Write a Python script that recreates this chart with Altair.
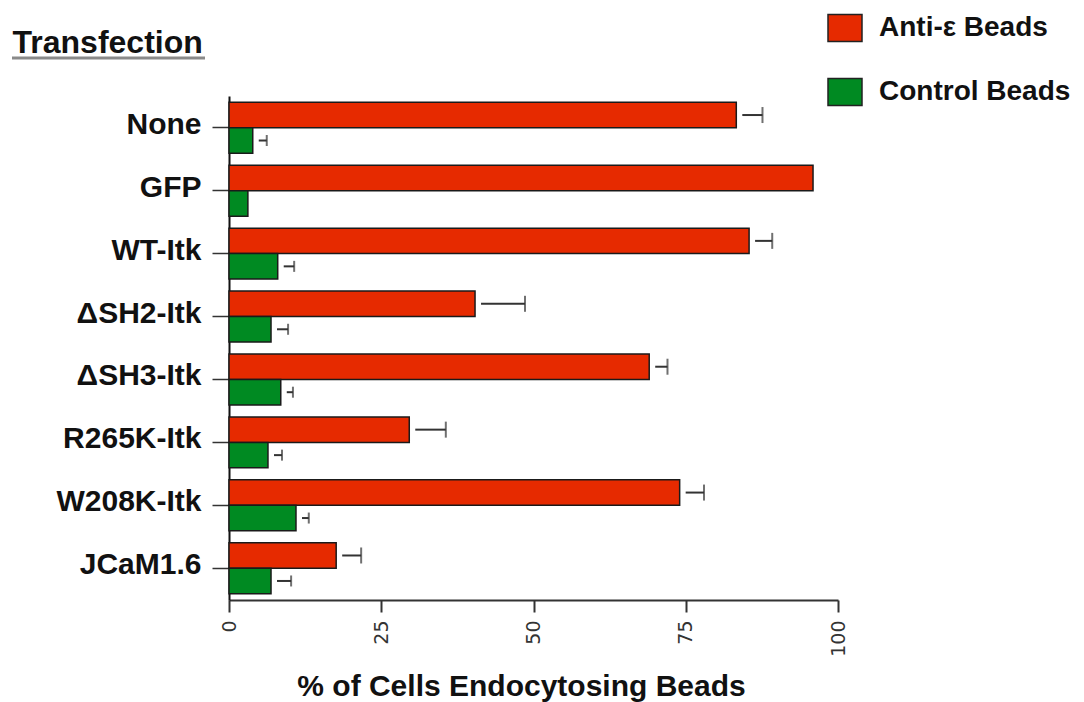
import altair as alt
import pandas as pd

# Transfection conditions, top to bottom
groups = ["None", "GFP", "WT-Itk", "ΔSH2-Itk", "ΔSH3-Itk", "R265K-Itk", "W208K-Itk", "JCaM1.6"]
series = ["Anti-ε Beads", "Control Beads"]

# % of cells endocytosing beads (mean) and error (None = no error bar)
anti_vals = [83.3, 95.9, 85.4, 40.4, 69.0, 29.6, 74.0, 17.6]
anti_err = [4.3, None, 3.8, 8.2, 3.0, 6.0, 4.0, 4.1]
ctrl_vals = [3.9, 3.1, 8.0, 6.9, 8.5, 6.4, 11.0, 6.9]
ctrl_err = [2.3, None, 2.7, 2.8, 2.0, 2.3, 2.1, 3.3]

x_ticks = [0, 25, 50, 75, 100]
colors = ["#E62A00", "#008A22"]

rows = []
for name, vals, errs in ((series[0], anti_vals, anti_err), (series[1], ctrl_vals, ctrl_err)):
    for g, v, e in zip(groups, vals, errs):
        rows.append({"group": g, "series": name, "value": v, "err": e})
df = pd.DataFrame(rows)
df["upper"] = df["value"] + df["err"]
err_df = df.dropna(subset=["err"])

FONT = "Liberation Sans"

y_axis = alt.Axis(
    title="Transfection",
    titleAngle=0,
    titleAlign="left",
    titleBaseline="alphabetic",
    titleX=-217,
    titleY=-44,
    titleFont=FONT,
    titleFontSize=32,
    titleFontWeight="bold",
    titleColor="#111",
    labelFont=FONT,
    labelFontSize=30,
    labelFontWeight="bold",
    labelColor="#111",
    labelPadding=11,
    labelOffset=-3,
    tickSize=17,
    tickWidth=1.5,
    tickColor="#333",
    domainColor="#111",
    domainWidth=2,
    grid=False,
)
x_axis = alt.Axis(
    title="% of Cells Endocytosing Beads",
    values=x_ticks,
    labelAngle=270,
    labelFont="DejaVu Sans",
    labelFontSize=19,
    labelColor="#333",
    labelPadding=8,
    tickSize=12,
    tickWidth=2,
    tickColor="#333",
    domainColor="#333",
    domainWidth=2,
    grid=False,
    titleFont=FONT,
    titleFontSize=30,
    titleFontWeight="bold",
    titleColor="#111",
    titleX=292,
    titleY=95,
    titleBaseline="alphabetic",
)
x_scale = alt.Scale(domain=[0, 100], nice=False)

y_enc = alt.Y("group:N", sort=groups, scale=alt.Scale(paddingInner=0.19, paddingOuter=0.1), axis=y_axis)
y_off = alt.YOffset("series:N", sort=series, scale=alt.Scale(domain=series))

bars = alt.Chart(df).mark_bar(stroke="#1a1a1a", strokeWidth=1.5).encode(
    x=alt.X("value:Q", scale=x_scale, axis=x_axis),
    y=y_enc,
    yOffset=y_off,
    color=alt.Color(
        "series:N",
        scale=alt.Scale(domain=series, range=colors),
        legend=alt.Legend(
            orient="none",
            legendX=598,
            legendY=-86,
            title=None,
            symbolType="M-1,-0.8H1V0.8H-1Z",
            symbolSize=1156,
            symbolStrokeColor="#222",
            symbolStrokeWidth=1.5,
            symbolOpacity=1,
            labelFont=FONT,
            labelFontSize=28,
            labelFontWeight="bold",
            labelColor="#111",
            labelOffset=16,
            labelLimit=400,
            rowPadding=29,
        ),
    ),
)

err_line = alt.Chart(err_df).mark_rule(color="#333", strokeWidth=2, xOffset=6).encode(
    x=alt.X("value:Q", scale=x_scale, axis=x_axis),
    x2="upper:Q",
    y=y_enc,
    yOffset=y_off,
)


def cap_layer(name, size):
    return (
        alt.Chart(err_df)
        .transform_filter(alt.datum.series == name)
        .mark_tick(color="#333", thickness=2, orient="vertical", size=size)
        .encode(
            x=alt.X("upper:Q", scale=x_scale, axis=x_axis),
            y=y_enc,
            yOffset=y_off,
        )
    )


underline = alt.Chart(pd.DataFrame({"u": [0]})).mark_rule(color="#8a8a8a", strokeWidth=3).encode(
    x=alt.value(-217), x2=alt.value(-24), y=alt.value(-38)
)

chart = (
    alt.layer(bars, err_line, cap_layer(series[0], 16), cap_layer(series[1], 11), underline)
    .properties(
        width=609,
        height=504,
        autosize=alt.AutoSizeParams(type="none"),
        padding={"left": 229, "top": 96, "right": 246, "bottom": 102},
        background="white",
    )
    .configure_view(stroke=None)
)

chart.save("out.html", embed_options={"renderer": "svg", "actions": False})
